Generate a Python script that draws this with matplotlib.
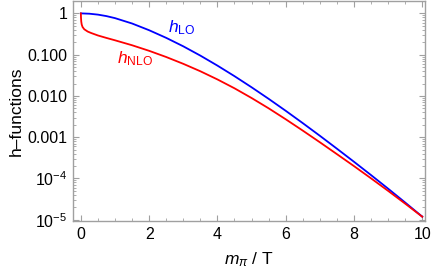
import matplotlib as mpl
mpl.use('Agg')
import matplotlib.pyplot as plt
import matplotlib.ticker as mticker
import numpy as np

# values (log10 of h)
x_lo = [0, 0.25, 0.5, 0.75, 1, 1.5, 2, 2.5, 3, 3.5, 4, 4.5, 5, 5.5, 6, 6.5, 7,
        7.5, 8, 8.5, 9, 9.5, 10]
log_h_lo = [0, -0.008, -0.03, -0.066, -0.115, -0.245, -0.408, -0.593, -0.798,
            -1.023, -1.265, -1.521, -1.79, -2.07, -2.36, -2.659, -2.965,
            -3.278, -3.595, -3.918, -4.247, -4.583, -4.925]

x_nlo = [0, 0.004, 0.012, 0.025, 0.05, 0.1, 0.2, 0.3, 0.4, 0.5, 0.75, 1, 1.5, 2,
         2.5, 3, 3.5, 4, 4.5, 5, 5.5, 6, 6.5, 7, 7.5, 8, 8.5, 9, 9.5, 10]
log_h_nlo = [0, -0.1, -0.2, -0.27, -0.33, -0.385, -0.44, -0.475, -0.505, -0.535,
             -0.595, -0.652, -0.772, -0.907, -1.057, -1.222, -1.402, -1.60,
             -1.815, -2.05, -2.30, -2.565, -2.84, -3.122, -3.41, -3.70, -3.997,
             -4.30, -4.61, -4.927]

y_ticks = [1, 0.1, 0.01, 0.001, 1e-4, 1e-5]
y_tick_labels = ['1', '0.100', '0.010', '0.001', r'$10^{-4}$', r'$10^{-5}$']
x_ticks = [0, 2, 4, 6, 8, 10]

mpl.rcParams.update({
    'font.family': ['Liberation Sans', 'DejaVu Sans'],
    'font.size': 11.5,
    'mathtext.fontset': 'custom',
    'mathtext.rm': 'Liberation Sans',
    'mathtext.it': 'Liberation Sans:italic',
    'mathtext.bf': 'Liberation Sans:bold',
})

dpi = 100
fig = plt.figure(dpi=dpi, figsize=(436 / dpi, 272 / dpi))
ax = fig.add_axes([73 / 436, 1 - 221 / 272, (425 - 73) / 436, (221 - 1) / 272])

ax.plot(x_lo, np.power(10.0, log_h_lo), color='#0000ff', lw=1.3)
ax.plot(x_nlo, np.power(10.0, log_h_nlo), color='#ff0000', lw=1.3)

ax.set_yscale('log')
ax.set_xlim(-0.23, 10.08)
ax.set_ylim(10 ** -5.03, 10 ** 0.30)

ax.set_yticks(y_ticks)
ax.set_yticklabels(y_tick_labels)
ax.yaxis.set_minor_locator(mticker.LogLocator(base=10, subs=np.arange(2, 10)))
ax.yaxis.set_minor_formatter(mticker.NullFormatter())
ax.set_xticks(x_ticks)
ax.xaxis.set_minor_locator(mticker.MultipleLocator(0.5))

gray = '#a0a0a0'
for s in ax.spines.values():
    s.set_color(gray)
    s.set_linewidth(1.0)
ax.tick_params(which='both', direction='in', top=True, right=True, color=gray,
               labelcolor='black')
ax.tick_params(which='major', length=4.5, width=0.8, pad=4)
ax.tick_params(which='minor', length=2.5, width=0.6)

ax.set_xlabel(r'$m_{\pi}$ / T', fontsize=12.5, labelpad=6)
ax.set_ylabel('h\u2013functions', fontsize=12.5, labelpad=3)

ax.text(2.96, 0.44, r'$h_{\mathrm{LO}}$', color='#0000ff', ha='center', va='center', fontsize=12.5)
ax.text(1.58, 0.08, r'$h_{\mathrm{NLO}}$', color='#ff0000', ha='center', va='center', fontsize=12.5)

fig.savefig('out.png', dpi=dpi)
